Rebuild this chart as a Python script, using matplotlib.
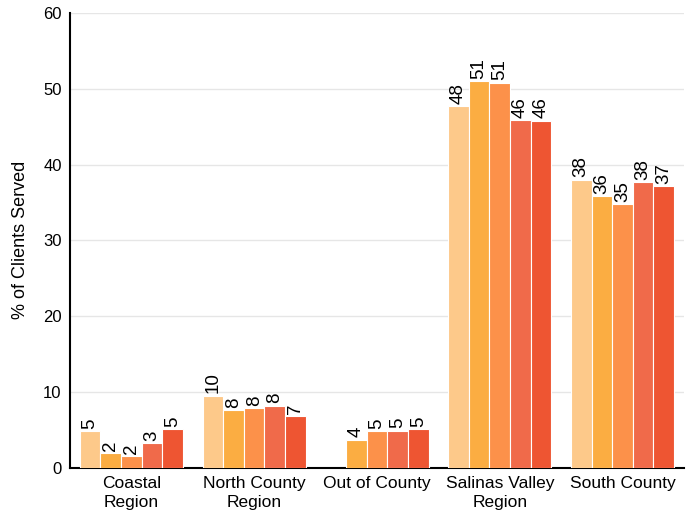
import numpy as np
import matplotlib
matplotlib.use('Agg')
import matplotlib.pyplot as plt

plt.rcParams['font.family'] = ['Liberation Sans', 'DejaVu Sans']

## Data
categories = ['Coastal\nRegion', 'North County\nRegion', 'Out of County',
              'Salinas Valley\nRegion', 'South County']
series_values = [
    [4.8, 9.5, np.nan, 47.7, 38.0],
    [1.9, 7.6, 3.7, 51.0, 35.8],
    [1.5, 7.9, 4.8, 50.8, 34.8],
    [3.2, 8.2, 4.9, 45.9, 37.7],
    [5.1, 6.8, 5.1, 45.8, 37.2],
]
colors = ['#FDC98A', '#FBAD42', '#FC914A', '#F06A4A', '#EE5532']
yticks = [0, 10, 20, 30, 40, 50, 60]

fig = plt.figure(figsize=(6.86, 5.18), dpi=100)
ax = fig.add_axes([0.102, 0.097, 0.895, 0.878])

x = np.arange(len(categories))
n = len(series_values)
width = 0.168
for i, vals in enumerate(series_values):
    pos = x + (i - (n - 1) / 2) * width
    vals = np.array(vals, dtype=float)
    ok = ~np.isnan(vals)
    bars = ax.bar(pos[ok], vals[ok], width, color=colors[i],
                  edgecolor='white', linewidth=0.8, zorder=3)
    for b, v in zip(bars, vals[ok]):
        ax.text(b.get_x() + b.get_width() / 2, v + 0.3, '%d' % round(v),
                rotation=90, ha='center', va='bottom', fontsize=13.5)

ax.set_xlim(-0.5, len(categories) - 0.5)
ax.set_ylim(0, 60)
ax.set_yticks(yticks)
ax.set_xticks(x)
ax.set_xticklabels(categories, fontsize=12.5, linespacing=1.3)
ax.tick_params(axis='y', labelsize=12, length=0, pad=6)
ax.tick_params(axis='x', length=0, pad=6)
ax.set_ylabel('% of Clients Served', fontsize=13, labelpad=10)
ax.yaxis.grid(True, color='#e6e6e6', linewidth=1, zorder=0)
for s in ['top', 'right']:
    ax.spines[s].set_visible(False)
ax.spines['left'].set_linewidth(1.5)
ax.spines['bottom'].set_linewidth(1.5)

fig.savefig('out.png', dpi=100)
